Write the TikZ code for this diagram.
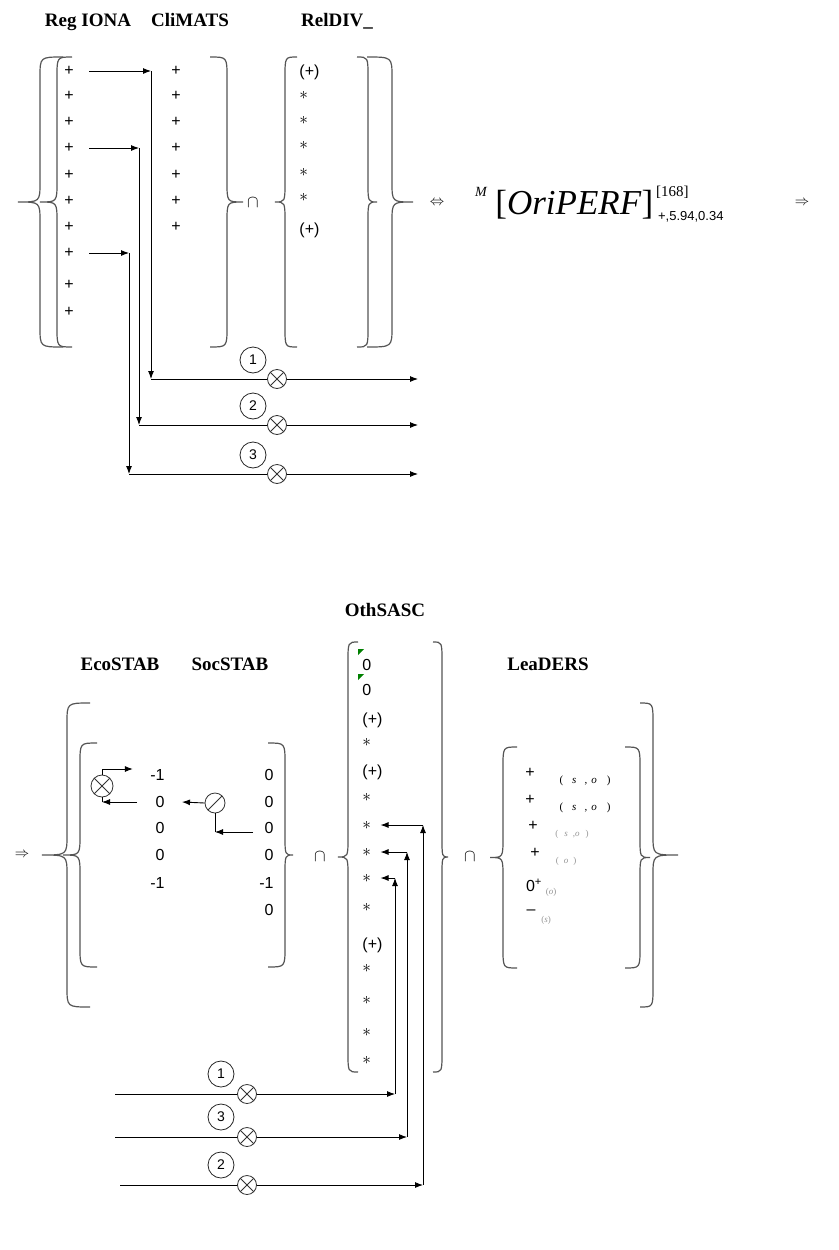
\documentclass[tikz,border=0pt]{standalone}
\usepackage{fontspec}
\setmainfont{Liberation Serif}
\setsansfont{Liberation Sans}
\usetikzlibrary{arrows.meta,calc,positioning}
\definecolor{BraceGray}{RGB}{85,85,85}
\definecolor{NoteGray}{RGB}{150,150,150}
\definecolor{MarkGreen}{RGB}{0,128,0}
\newcommand{\curly}[5]{%
  \draw[bracestroke] (#1,#4) .. controls (#2,#4) .. (#2,#4+20)
    -- (#2,{(#4+#5)/2-20}) .. controls (#2,{(#4+#5)/2}) .. (#3,{(#4+#5)/2})
    .. controls (#2,{(#4+#5)/2}) .. (#2,{(#4+#5)/2+20})
    -- (#2,#5-20) .. controls (#2,#5) .. (#1,#5);}

\begin{document}
\begin{tikzpicture}[x=1pt,y=-1pt,>={Latex[length=8pt,width=6pt]},line width=0.9pt,
  ttl/.style={font=\fontsize{19}{21}\selectfont\bfseries,anchor=base},
  cell/.style={font=\sffamily\fontsize{16}{18}\selectfont,inner sep=1pt},
  bracestroke/.style={draw=BraceGray,line width=1.2pt},
  num/.style={circle,draw=black!85,line width=0.8pt,minimum size=26pt,inner sep=0pt,font=\sffamily\fontsize{14}{16}\selectfont},
  xo/.style={circle,draw=black!80,line width=0.8pt,fill=white,minimum size=19pt,inner sep=0pt,
    path picture={\draw[black!80,line width=0.8pt] (path picture bounding box.north west)--(path picture bounding box.south east)
      (path picture bounding box.south west)--(path picture bounding box.north east);}},
  xs/.style={circle,draw=black!80,line width=0.8pt,fill=white,minimum size=20pt,inner sep=0pt,
    path picture={\draw[black!80,line width=0.8pt] (path picture bounding box.south west)--(path picture bounding box.north east);}},
  lnote/.style={font=\fontsize{11}{13}\selectfont,inner sep=0pt},
  gnote/.style={font=\fontsize{9}{11}\selectfont,text=NoteGray,inner sep=0pt}]
\fill[white] (0,0) rectangle (838,1250);

\node[ttl] (tReg) at (88,26) {Reg IONA};
\node[ttl] (tCli) at (190,26) {CliMATS};
\node[ttl] (tRel) at (337,26) {RelDIV\_};

\curly{63}{40}{18}{57}{347}
\curly{72}{57}{40}{57}{347}
\curly{210}{227}{243}{57}{347}
\curly{297}{285}{275}{57}{347}
\curly{357}{368}{377}{57}{347}
\curly{367}{392}{413}{57}{347}

\foreach \y [count=\i] in {71,96,122,148,175,201,227,253,285,312}
  \node[cell] (r\i) at (69,\y) {+};
\foreach \y [count=\i] in {71,96,122,148,175,201,227}
  \node[cell] (c\i) at (176,\y) {+};
\foreach \y/\t [count=\i] in {72/{(+)},95/$\ast$,120/$\ast$,145/$\ast$,172/$\ast$,197/$\ast$,230/{(+)}}
  \node[cell,anchor=west] (d\i) at (298,\y) {\t};
\node[font=\fontsize{16}{18}\selectfont] (cap1) at (253,203) {$\cap$};

\foreach \i/\k/\xv/\yr/\yh in {1/1/151/71/379,2/4/139/148/425,3/8/129/253/474}{
  \coordinate (k\i) at (\xv,\yr); \coordinate (h\i) at (\xv,\yh); \coordinate (g\i) at (418,\yh);
  \draw[->] ([xshift=14pt]r\k.east) -- (k\i);
  \draw[->] (k\i) -- (h\i);
  \draw[->] (h\i) -- (g\i);
  \node[xo] (tx\i) at (277,\yh) {};
  \node[num] (tn\i) at (253,\yh-19) {\i};
}

\node[font=\fontsize{14}{16}\selectfont] (iff) at (437,203) {$\Leftrightarrow$};
\node[font=\fontsize{14}{16}\selectfont\itshape] (fm) at (481,192) {M};
\node[font=\fontsize{35}{38}\selectfont,anchor=west,inner sep=0pt] (fo) at (495,205) {[\textit{OriPERF}]};
\node[font=\fontsize{15}{17}\selectfont,right=2pt of fo,yshift=13pt,inner sep=0pt] (fsup) {[168]};
\node[font=\sffamily\fontsize{13}{15}\selectfont,right=4pt of fo,yshift=-12pt,inner sep=0pt] (fsub) {+,5.94,0.34};
\node[font=\fontsize{14}{16}\selectfont] (imp1) at (802,203) {$\Rightarrow$};

\node[ttl] (tOth) at (385,616) {OthSASC};
\node[ttl] (tEco) at (120,670) {EcoSTAB};
\node[ttl] (tSoc) at (230,670) {SocSTAB};
\node[ttl] (tLea) at (548,670) {LeaDERS};

\node[font=\fontsize{14}{16}\selectfont] (imp2) at (22,855) {$\Rightarrow$};
\curly{90}{67}{42}{703}{1007}
\curly{97}{80}{63}{743}{967}
\curly{268}{285}{293}{743}{967}
\curly{358}{348}{338}{642}{1072}
\curly{433}{442}{448}{642}{1072}
\curly{517}{503}{490}{747}{968}
\curly{625}{640}{650}{747}{968}
\curly{640}{653}{678}{703}{1007}
\node[font=\fontsize{16}{18}\selectfont] (cap2) at (320,857) {$\cap$};
\node[font=\fontsize{16}{18}\selectfont] (cap3) at (470,857) {$\cap$};

\foreach \y/\t [count=\i] in {775/-1,802/0,828/0,855/0,883/-1}
  \node[cell,anchor=east] (e\i) at (166,\y) {\t};
\foreach \y/\t [count=\i] in {775/0,802/0,828/0,855/0,883/-1,910/0}
  \node[cell,anchor=east] (s\i) at (275,\y) {\t};

\node[xo,minimum size=22pt] (ex) at (102,786) {};
\draw[->] (ex.north) |- ([xshift=-16pt,yshift=6pt]e1.west);
\draw (ex.south) -- (ex.south |- e2.west);
\draw[->] ([xshift=-17pt]e2.west) -- (ex.south |- e2.west);
\node[xs] (dv) at (215,803) {};
\draw[->] (dv.west) -- ([xshift=16pt]e2.east);
\draw (dv.south) -- ([yshift=-4pt]dv.south |- s3.west);
\draw[->] ([xshift=-10pt,yshift=-4pt]s3.west) -- ([yshift=-4pt]dv.south |- s3.west);

\foreach \y/\t [count=\i] in {665/0,690/0,720/{(+)},742/$\ast$,772/{(+)},797/$\ast$,825/$\ast$,852/$\ast$,878/$\ast$,907/$\ast$,945/{(+)},968/$\ast$,1000/$\ast$,1032/$\ast$,1060/$\ast$}
  \node[cell,anchor=west] (o\i) at (361,\y) {\t};
\fill[MarkGreen] (358,649) -- (364,649) -- (358,655) -- cycle;
\fill[MarkGreen] (358,674) -- (364,674) -- (358,680) -- cycle;

\foreach \i/\xv/\y/\ro/\xs in {1/395/1094/9/115,3/407/1137/8/115,2/423/1185/7/120}{
  \coordinate (bs\i) at (\xs,\y); \coordinate (bm\i) at (\xv,\y); \coordinate (bu\i) at (o\ro.west -| \xv,0);
  \draw[->] (bs\i) -- (bm\i);
  \draw[->] (bm\i) -- (bu\i);
  \draw[->] (bu\i) -- ([xshift=8pt]o\ro.east);
  \node[xo] (bx\i) at (247,\y) {};
  \node[num] (bn\i) at (221,\y-20) {\i};
}

\node[cell] (l1) at (530,773) {+};
\node[lnote] (l1n) at (585,781) {(\hspace{9pt}\textit{s}\hspace{8pt},\hspace{4pt}\textit{o}\hspace{10pt})};
\node[cell] (l2) at (530,800) {+};
\node[lnote] (l2n) at (585,808) {(\hspace{9pt}\textit{s}\hspace{8pt},\hspace{4pt}\textit{o}\hspace{10pt})};
\node[cell] (l3) at (533,826) {+};
\node[gnote] (l3n) at (572,834) {(\hspace{6pt}\textit{s}\hspace{5pt},\textit{o}\hspace{6pt})};
\node[cell] (l4) at (535,853) {+};
\node[gnote] (l4n) at (566,861) {(\hspace{5pt}\textit{o}\hspace{5pt})};
\node[cell] (l5) at (534,885) {0\textsuperscript{+}};
\node[gnote] (l5n) at (551,892) {(\textit{o})};
\node[cell] (l6) at (531,912) {\textendash};
\node[gnote] (l6n) at (546,920) {(\textit{s})};
\end{tikzpicture}
\end{document}
